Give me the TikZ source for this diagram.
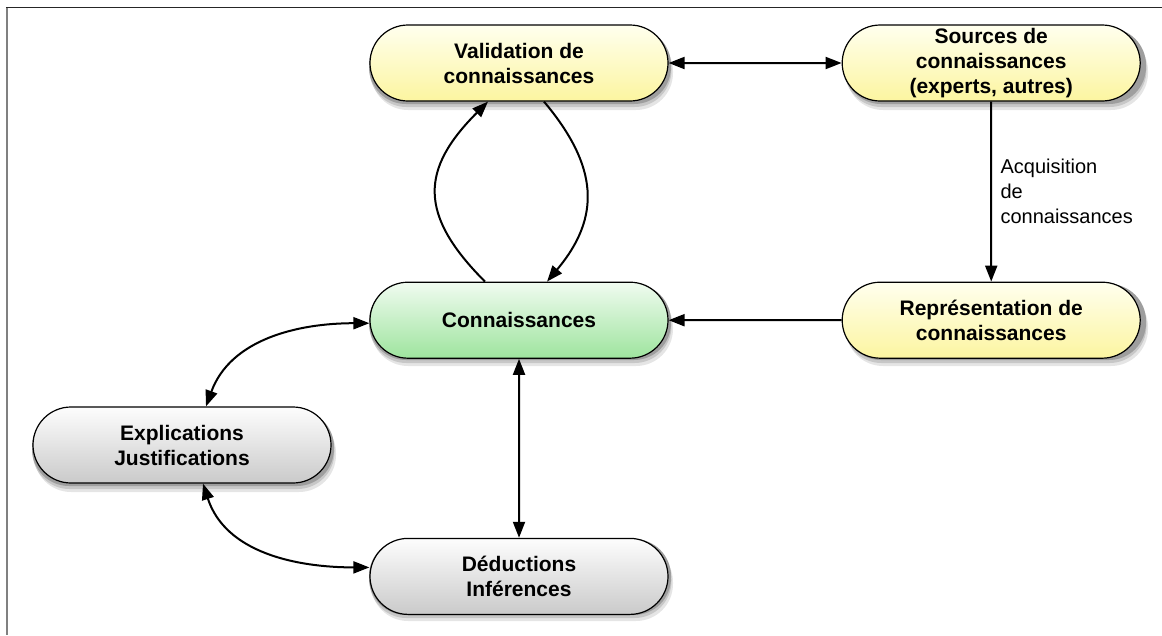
\documentclass[tikz,border=0pt]{standalone}
\usepackage{fontspec}
\setmainfont{Liberation Sans}
\usepackage{tikz}
\usetikzlibrary{positioning}
\usetikzlibrary{shapes.misc}
\usetikzlibrary{arrows.meta}
\definecolor{yellowtop}{RGB}{255,255,238}
\definecolor{yellowbot}{RGB}{252,245,160}
\definecolor{greentop}{RGB}{240,251,240}
\definecolor{greenbot}{RGB}{158,228,158}
\definecolor{graytop}{RGB}{253,253,253}
\definecolor{graybot}{RGB}{202,202,202}
\tikzset{kbnode/.style={rounded rectangle,
                        draw=black,
                        line width=1.2pt,
                        minimum width=302pt,
                        minimum height=76pt,
                        inner sep=2pt,
                        align=center,
                        font=\bfseries\fontsize{21}{25}\selectfont
                        },
        yellownode/.style={kbnode,
                        top color=yellowtop,
                        bottom color=yellowbot
        },
        greennode/.style={kbnode,
                        top color=greentop,
                        bottom color=greenbot
        },
        graynode/.style={kbnode,
                        top color=graytop,
                        bottom color=graybot
        },
        kbshadow/.style={rounded corners=37pt, draw=none},
        kblink/.style={line width=2pt,
                        arrows={-Triangle[length=16pt,width=12pt]}
        },
        kbboth/.style={line width=2pt,
                        arrows={Triangle[length=16pt,width=12pt]-Triangle[length=16pt,width=12pt]}
        },
}

\begin{document}
\begin{tikzpicture}
    [x=1pt,y=1pt]

    \useasboundingbox (0,0) rectangle (1162,-635);

    % FRAME
    \draw[black!50,line width=2pt] (6.8,-7) -- (6.8,-635);
    \draw[black!85,line width=1.5pt] (6,-7.5) -- (1162,-7.5);

    % SHADOWS
    \foreach \cx/\cy in {519/-63, 994/-63, 519/-319, 994/-319, 519/-574, 182/-445} {
        \fill[kbshadow, black!10] (\cx-148,\cy+29) rectangle (\cx+154,\cy-47);
        \fill[kbshadow, black!22] (\cx-149.5,\cy+32) rectangle (\cx+152.5,\cy-44);
        \fill[kbshadow, black!38] (\cx-150,\cy+35) rectangle (\cx+152,\cy-41);
    }

    % NODES
    \node[yellownode] (validation) at (519,-63) {Validation de\\connaissances};

    \node[yellownode, right=173pt of validation] (sources) {Sources de\\connaissances\\(experts, autres)};

    \node[greennode, below=180pt of validation] (connaissances) {Connaissances};

    \node[yellownode, right=173pt of connaissances] (representation) {Représentation de\\connaissances};

    \node[graynode, below=179pt of connaissances] (deductions) {Déductions\\Inférences};

    \node[graynode] (explications) at (182,-445) {Explications\\Justifications};

    % LINKS
    \draw[kbboth] (validation) -- (sources);
    \draw[kblink] (sources) -- node[right=5pt, align=left, font=\fontsize{20}{25}\selectfont]
        {Acquisition\\de\\connaissances} (representation);
    \draw[kblink] (representation) -- (connaissances);

    \draw[kblink] ([xshift=-34pt]connaissances.north) to[out=135,in=-135,looseness=1.35] ([xshift=-31pt]validation.south);
    \draw[kblink] ([xshift=25pt]validation.south) to[out=-50,in=50,looseness=1.2] ([xshift=28pt]connaissances.north);

    \draw[kbboth] (connaissances) -- (deductions);
    \draw[kbboth] ([xshift=24pt]explications.north) to[out=70,in=180] ([yshift=-3pt]connaissances.west);
    \draw[kbboth] ([xshift=21pt]explications.south) to[out=-72,in=180] ([yshift=9pt]deductions.west);

\end{tikzpicture}
\end{document}
